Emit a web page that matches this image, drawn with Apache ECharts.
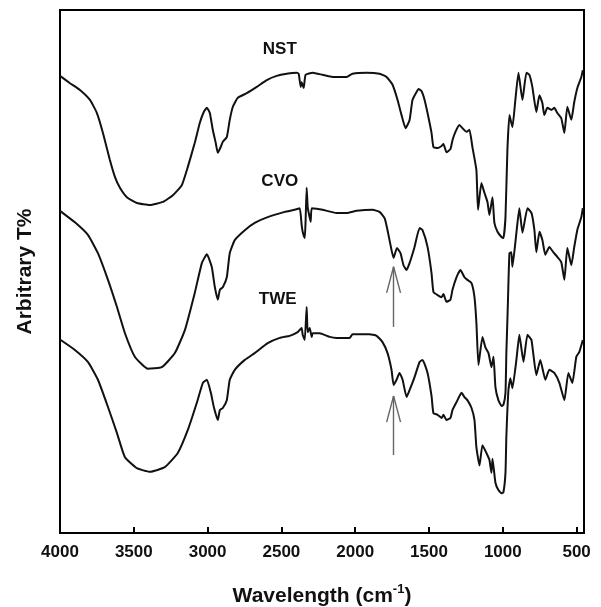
<!DOCTYPE html>
<html>
<head>
<meta charset="utf-8">
<script src="https://cdn.jsdelivr.net/npm/echarts@6/dist/echarts.min.js"></script>
<style>
html,body{margin:0;padding:0;background:#fff;}
#chart{width:601px;height:607px;}
</style>
</head>
<body>
<div id="chart"></div>
<script>
// x tick labels (wavenumber, cm-1)
var xTicks = [4000, 3500, 3000, 2500, 2000, 1500, 1000, 500];
var seriesNames = ['NST', 'CVO', 'TWE'];

// [wavenumber, arbitrary T%]
var nst = [
[4000,87.4],[3932,86.0],[3865,84.7],[3797,82.8],[3750,80.3],[3709,76.5],[3662,71.3],[3628,68.1],[3594,66.0],[3547,64.2],
[3479,63.1],[3391,62.7],[3303,63.3],[3235,64.6],[3175,66.5],[3134,70.0],[3087,74.6],[3053,78.4],[3026,80.5],[3005,81.3],
[2985,80.3],[2965,77.1],[2945,74.6],[2931,72.7],[2911,73.8],[2897,74.8],[2870,75.7],[2850,79.0],[2829,81.5],[2796,83.2],
[2735,84.1],[2667,85.3],[2599,86.6],[2532,87.4],[2464,87.8],[2396,88.0],[2383,87.8],[2369,85.3],[2363,86.2],[2349,85.1],
[2336,87.6],[2288,88.0],[2221,87.6],[2153,87.2],[2058,87.2],[2018,87.8],[1923,88.0],[1835,87.8],[1788,87.2],[1747,85.7],
[1713,82.8],[1686,79.9],[1659,77.4],[1632,78.9],[1612,82.8],[1585,84.3],[1571,84.9],[1551,84.5],[1530,82.8],[1510,80.3],
[1483,76.5],[1470,73.8],[1442,73.6],[1415,74.0],[1402,74.4],[1382,72.8],[1355,73.4],[1341,75.1],[1321,76.7],[1294,78.0],
[1273,77.4],[1246,76.7],[1226,77.1],[1206,73.8],[1179,69.4],[1168,61.8],[1145,66.9],[1124,65.0],[1104,63.3],[1091,60.8],
[1070,64.2],[1057,59.3],[1036,57.6],[1009,56.6],[996,56.4],[982,60.4],[969,73.2],[955,79.9],[935,77.6],[915,82.8],
[894,88.0],[867,82.8],[840,88.0],[820,87.6],[800,85.3],[773,80.5],[752,83.7],[732,82.2],[719,79.9],[698,81.3],
[671,80.9],[651,81.3],[631,80.3],[604,79.3],[583,76.5],[563,81.5],[536,79.0],[516,82.4],[495,85.1],[468,87.2],[458,88.5]
];

var cvo = [
[4000,61.6],[3899,59.4],[3811,57.0],[3743,53.5],[3675,48.4],[3614,43.2],[3560,38.2],[3493,33.7],[3405,31.4],[3310,31.7],
[3222,34.4],[3154,38.8],[3087,45.9],[3039,51.6],[3005,53.3],[2972,50.9],[2951,47.0],[2931,44.6],[2917,46.5],[2897,47.0],
[2870,48.9],[2850,53.5],[2816,56.0],[2748,57.9],[2681,59.3],[2593,60.4],[2478,61.4],[2410,61.8],[2376,62.1],[2363,58.9],
[2356,57.6],[2342,56.4],[2336,59.8],[2329,66.0],[2322,62.3],[2315,61.2],[2302,59.5],[2295,62.1],[2261,62.0],[2221,61.8],
[2126,61.2],[2058,61.2],[1991,61.6],[1882,61.8],[1835,61.4],[1801,60.2],[1781,57.9],[1754,54.1],[1740,52.6],[1717,54.5],
[1693,53.5],[1673,51.2],[1652,50.3],[1632,51.6],[1598,54.7],[1564,58.3],[1544,57.9],[1510,54.7],[1483,49.7],[1470,46.1],
[1442,45.5],[1415,45.1],[1402,45.7],[1382,44.2],[1355,44.6],[1341,46.5],[1314,48.9],[1287,50.3],[1260,48.9],[1240,48.4],
[1212,47.8],[1192,45.1],[1179,40.2],[1165,32.1],[1138,37.5],[1118,35.5],[1097,34.4],[1077,31.7],[1063,33.7],[1050,27.9],
[1030,25.4],[1009,24.3],[996,24.5],[982,26.8],[976,34.4],[969,40.7],[965,44.6],[955,53.5],[942,53.7],[935,50.9],
[908,57.4],[888,62.1],[867,57.4],[833,62.1],[806,61.2],[786,57.9],[773,53.7],[752,57.6],[732,56.0],[712,53.2],
[685,54.7],[658,53.7],[631,52.8],[604,51.8],[583,48.4],[563,54.5],[536,51.2],[516,54.7],[495,58.0],[468,60.4],[458,62.1]
];

var twe = [
[4000,37.0],[3899,35.0],[3811,32.7],[3743,29.3],[3675,24.1],[3614,19.1],[3560,14.5],[3479,12.4],[3391,11.7],[3290,12.6],
[3202,15.3],[3134,19.7],[3073,24.9],[3032,28.7],[3005,29.3],[2978,26.8],[2958,24.1],[2931,21.6],[2917,23.5],[2897,23.9],
[2870,25.4],[2850,29.3],[2816,31.2],[2748,33.1],[2681,34.4],[2593,36.3],[2511,37.3],[2444,37.7],[2390,38.4],[2363,39.2],
[2356,37.9],[2342,36.9],[2329,43.2],[2322,38.4],[2308,39.2],[2295,37.5],[2288,38.2],[2241,38.2],[2173,37.5],[2126,37.3],
[2038,37.3],[2018,38.0],[1903,38.0],[1855,37.7],[1815,36.5],[1781,34.4],[1754,31.2],[1740,28.3],[1720,29.3],[1700,30.6],
[1679,29.3],[1652,26.0],[1632,27.3],[1598,29.8],[1564,32.7],[1544,33.1],[1510,30.6],[1483,26.2],[1470,22.9],[1442,22.6],
[1415,22.0],[1402,22.6],[1382,21.6],[1355,22.0],[1341,23.5],[1314,25.0],[1280,26.8],[1260,26.0],[1240,25.4],[1212,23.9],
[1192,21.6],[1179,16.4],[1158,12.9],[1138,16.8],[1111,15.3],[1091,14.0],[1077,11.5],[1070,14.2],[1050,9.6],[1030,8.2],
[1009,7.6],[996,7.8],[982,11.5],[976,18.4],[962,27.3],[949,29.6],[935,27.7],[908,33.1],[888,37.9],[860,32.7],
[833,37.9],[806,36.9],[773,30.2],[746,33.1],[712,29.3],[685,31.2],[651,30.6],[617,28.7],[583,25.4],[556,30.6],
[529,28.7],[502,33.7],[482,34.6],[458,36.9]
];

// curve label anchors [wavenumber, T%]
var labelPos = [[2511,92.4],[2511,67.3],[2525,44.6]];
// arrows at the ester carbonyl band: [tip, tail, wing end] in T%
var arrowWavenumber = 1740;
var arrowWingWidth = 47;
var cvoArrow = [50.9, 39.4, 45.9];
var tweArrow = [26.2, 14.9, 21.2];

var FONT = "'Liberation Sans', Arial, Helvetica, sans-serif";

function arrowLines(a) {
  return [
    [{coord:[arrowWavenumber, a[0]]}, {coord:[arrowWavenumber, a[1]]}],
    [{coord:[arrowWavenumber, a[0]]}, {coord:[arrowWavenumber + arrowWingWidth, a[2]]}],
    [{coord:[arrowWavenumber, a[0]]}, {coord:[arrowWavenumber - arrowWingWidth, a[2]]}]
  ];
}

function makeSeries(name, data, idx, arrow) {
  var s = {
    name: name,
    type: 'line',
    data: data,
    showSymbol: false,
    smooth: 0.15,
    lineStyle: {color: '#111', width: 2},
    z: 3,
    markPoint: {
      symbol: 'circle',
      symbolSize: 0,
      silent: true,
      label: {
        show: true, position: 'inside', formatter: name,
        color: '#111', fontWeight: 'bold', fontSize: 17, fontFamily: FONT
      },
      data: [{coord: labelPos[idx]}]
    }
  };
  if (arrow) {
    s.markLine = {
      silent: true,
      symbol: ['none', 'none'],
      label: {show: false},
      lineStyle: {color: '#666', width: 1.4, type: 'solid'},
      data: arrowLines(arrow)
    };
  }
  return s;
}

var chart = echarts.init(document.getElementById('chart'), null, {renderer: 'canvas'});
chart.setOption({
  animation: false,
  backgroundColor: '#fff',
  grid: {
    left: 60, top: 10, right: 17, bottom: 74,
    show: true, borderColor: '#000', borderWidth: 2, backgroundColor: 'transparent',
    containLabel: false, outerBoundsMode: 'none'
  },
  xAxis: {
    type: 'value',
    inverse: true,
    min: 450, max: 4000,
    name: '{a|Wavelength (cm}{s|-1}{a|)}',
    nameLocation: 'middle',
    nameGap: 50,
    nameTextStyle: {
      rich: {
        a: {fontFamily: FONT, fontWeight: 'bold', fontSize: 21, color: '#111', lineHeight: 26},
        s: {fontFamily: FONT, fontWeight: 'bold', fontSize: 13, color: '#111', verticalAlign: 'top', lineHeight: 26, padding: [0, 0, 12, 0]}
      }
    },
    axisLine: {show: true, lineStyle: {color: '#000', width: 2}},
    axisTick: {show: true, inside: true, length: 6, lineStyle: {color: '#000', width: 2}, customValues: xTicks},
    axisLabel: {
      customValues: xTicks,
      formatter: function (v) { return String(v); },
      margin: 11,
      color: '#111', fontWeight: 'bold', fontSize: 17, fontFamily: FONT
    },
    splitLine: {show: false}
  },
  yAxis: {
    type: 'value',
    min: 0, max: 100,
    name: 'Arbitrary T%',
    nameLocation: 'middle',
    nameRotate: 90,
    nameGap: 24,
    nameTextStyle: {fontFamily: FONT, fontWeight: 'bold', fontSize: 21, color: '#111'},
    axisLine: {show: true, lineStyle: {color: '#000', width: 2}},
    axisTick: {show: false},
    axisLabel: {show: false},
    splitLine: {show: false}
  },
  series: [
    makeSeries(seriesNames[0], nst, 0, null),
    makeSeries(seriesNames[1], cvo, 1, cvoArrow),
    makeSeries(seriesNames[2], twe, 2, tweArrow)
  ]
});
</script>
</body>
</html>
